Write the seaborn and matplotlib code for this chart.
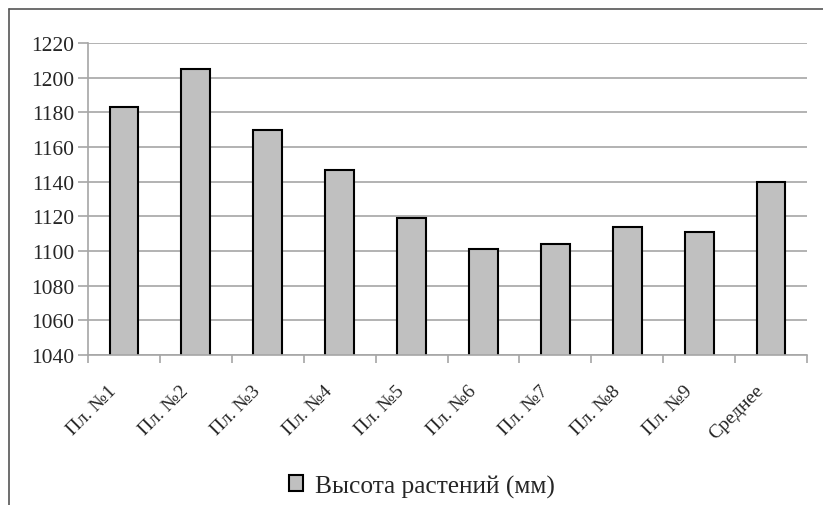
import matplotlib
matplotlib.use("Agg")
import matplotlib.pyplot as plt
import matplotlib.transforms as mtransforms
import seaborn as sns
import pandas as pd
from matplotlib.lines import Line2D

categories = ["Пл. №1", "Пл. №2", "Пл. №3", "Пл. №4", "Пл. №5",
              "Пл. №6", "Пл. №7", "Пл. №8", "Пл. №9", "Среднее"]
values = [1183, 1205, 1170, 1147, 1119, 1101, 1104, 1114, 1111, 1140]
series_name = "Высота растений (мм)"
y_ticks = [1040, 1060, 1080, 1100, 1120, 1140, 1160, 1180, 1200, 1220]

sns.set_theme(style="white")
plt.rcParams['font.family'] = ['Liberation Serif', 'DejaVu Serif']

df = pd.DataFrame({"cat": categories, "val": values, "series": series_name})

fig = plt.figure(figsize=(8.23, 5.06), dpi=100)
ax = fig.add_axes([88/823, 1-356/506, (807-88)/823, (356-44)/506])

sns.barplot(data=df, x="cat", y="val", hue="series", palette=["#c0c0c0"],
            width=0.4, edgecolor="black", linewidth=1.5, ax=ax, legend=True)

ax.set_ylim(1040, 1220)
ax.set_xlim(-0.5, len(categories) - 0.5)
ax.set_yticks(y_ticks)
ax.set_yticklabels([str(t) for t in y_ticks], fontsize=15.5)
ax.yaxis.grid(True, color="#a6a6a6", linewidth=1.2)
ax.set_axisbelow(True)
ax.set_xlabel("")
ax.set_ylabel("")

for s in ["top", "right"]:
    ax.spines[s].set_visible(False)
for s in ["left", "bottom"]:
    ax.spines[s].set_color("#a6a6a6")
    ax.spines[s].set_linewidth(1.2)

ax.tick_params(axis="y", length=7, width=1.2, color="#a6a6a6", pad=3, left=True)
# category boundary ticks on x axis
ax.set_xticks([i - 0.5 for i in range(len(categories) + 1)], minor=False)
ax.set_xticklabels([""] * (len(categories) + 1))
ax.tick_params(axis="x", length=6, width=1.2, color="#a6a6a6", bottom=True)
ax.set_xticks(range(len(categories)), minor=True)
labels = ax.set_xticklabels(categories, minor=True, rotation=45, ha="right",
                            rotation_mode="anchor", fontsize=14)
ax.tick_params(axis="x", which="minor", length=0, pad=12)
shift = mtransforms.ScaledTranslation(-16/100, -10/100, fig.dpi_scale_trans)
for lab in ax.get_xticklabels(minor=True):
    lab.set_transform(lab.get_transform() + shift)

leg = ax.legend(loc="center", bbox_to_anchor=(422/823, 1-487/506),
                bbox_transform=fig.transFigure, frameon=False,
                fontsize=18.3, handlelength=0.55, handleheight=0.55,
                handletextpad=0.45)

# outer chart border (top and left visible)
fig.add_artist(Line2D([9/823, 1], [1-10/506, 1-10/506], transform=fig.transFigure,
                      color="#555555", linewidth=1.2))
fig.add_artist(Line2D([9/823, 9/823], [0, 1-10/506], transform=fig.transFigure,
                      color="#555555", linewidth=1.2))

fig.savefig("out.png", dpi=100)
